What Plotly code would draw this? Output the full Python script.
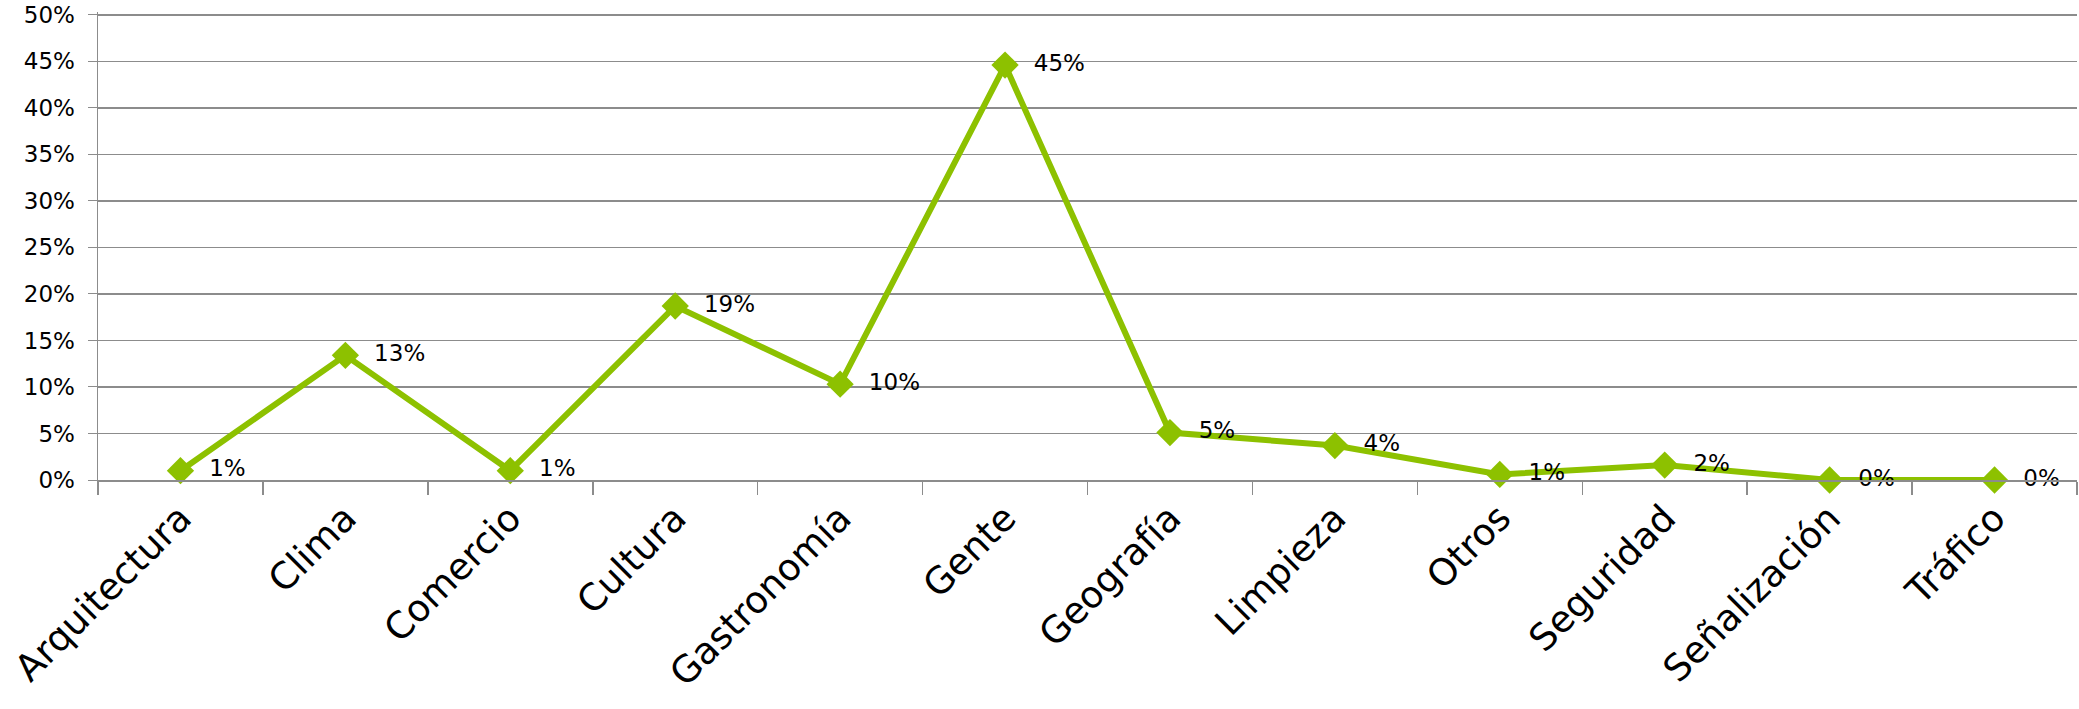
import plotly.graph_objects as go

categories = ["Arquitectura", "Clima", "Comercio", "Cultura", "Gastronomía", "Gente",
              "Geografía", "Limpieza", "Otros", "Seguridad", "Señalización", "Tráfico"]
values = [0.010, 0.134, 0.010, 0.187, 0.103, 0.446, 0.051, 0.037, 0.006, 0.016, 0.0, 0.0]
y_ticks = [0, 0.05, 0.10, 0.15, 0.20, 0.25, 0.30, 0.35, 0.40, 0.45, 0.50]
y_tick_labels = ["0%", "5%", "10%", "15%", "20%", "25%", "30%", "35%", "40%", "45%", "50%"]

FONT = "DejaVu Sans"
GREEN = "#8DC100"
GRID = "#8C8C8C"

fig = go.Figure()
fig.add_trace(go.Scatter(
    x=categories, y=values,
    mode="lines+markers+text",
    line=dict(color=GREEN, width=6),
    marker=dict(symbol="diamond", size=21, color=GREEN),
    texttemplate="\u00a0\u00a0%{y:.0%}",
    textposition="middle right",
    textfont=dict(family=FONT, size=23, color="#000000"),
    cliponaxis=False,
    showlegend=False,
))

fig.update_layout(
    width=2079, height=709,
    margin=dict(l=98, r=2, t=12, b=229),
    paper_bgcolor="white", plot_bgcolor="white",
    font=dict(family=FONT, color="#000000"),
)
fig.update_xaxes(
    type="category",
    tickangle=-45,
    tickfont=dict(family=FONT, size=37, color="#000000"),
    ticks="outside", ticklen=13, tickcolor=GRID, tickwidth=1.5,
    tickson="boundaries",
    showgrid=False,
    showline=True, linecolor=GRID, linewidth=1.5,
    range=[-0.5, len(categories) - 0.5],
    automargin=False,
)
fig.update_yaxes(
    range=[0, 0.503],
    tickvals=y_ticks, ticktext=y_tick_labels,
    tickfont=dict(family=FONT, size=23, color="#000000"),
    ticklabeloverflow="allow",
    showgrid=True, gridcolor=GRID, gridwidth=1.5,
    showline=True, linecolor=GRID, linewidth=1.5,
    ticks="outside", ticklen=9, tickcolor=GRID,
    ticklabelstandoff=8,
    zeroline=False,
    automargin=False,
)

post = (
    "document.body.style.margin='0';"
    "var gd=document.getElementById('{plot_id}');"
    "Plotly.react(gd, gd.data, gd.layout, {staticPlot: true});"
)
fig.write_html("out.html", config={"staticPlot": True}, post_script=post)
